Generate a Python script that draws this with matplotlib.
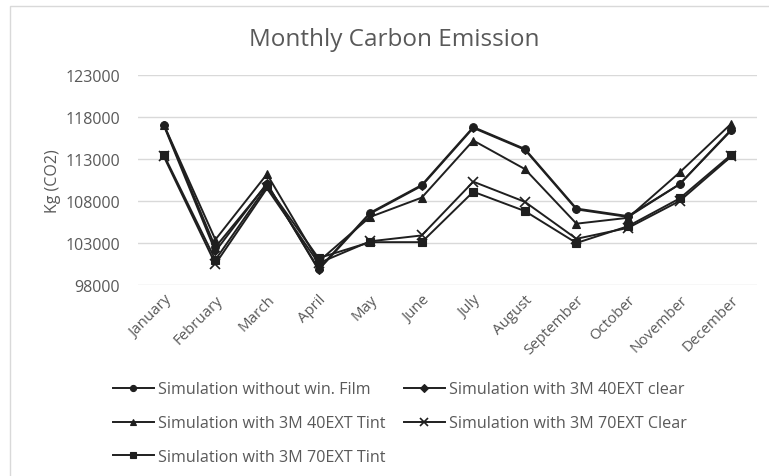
import matplotlib
matplotlib.use("Agg")
import matplotlib.pyplot as plt
from matplotlib.patches import Rectangle

months = ["January", "February", "March", "April", "May", "June", "July",
          "August", "September", "October", "November", "December"]
no_film = [117100, 102500, 110000, 99900, 106600, 109900, 116800, 114200, 107100, 106200, 110000, 116500]
clear40 = [117000, 102000, 110100, 99800, 106500, 109800, 116700, 114100, 107000, 106100, 110000, 116400]
tint40 = [117100, 103400, 111200, 100800, 106100, 108400, 115200, 111800, 105300, 106000, 111400, 117200]
clear70 = [113300, 100500, 109500, 100600, 103200, 103900, 110300, 107900, 103500, 104800, 108000, 113300]
tint70 = [113500, 101000, 109800, 101200, 103100, 103100, 109100, 106800, 103000, 105000, 108300, 113500]
yticks = [98000, 103000, 108000, 113000, 118000, 123000]

labels = ["Simulation without win. Film", "Simulation with 3M 40EXT clear",
          "Simulation with 3M 40EXT Tint", "Simulation with 3M 70EXT Clear",
          "Simulation with 3M 70EXT Tint"]
series = [no_film, clear40, tint40, clear70, tint70]
markers = ["o", "D", "^", "x", "s"]
msizes = [5.5, 4.5, 6, 7, 5.5]

plt.rcParams['font.family'] = ['Open Sans', 'DejaVu Sans']
txt = '#595959'

fig = plt.figure(figsize=(7.69, 4.77), dpi=100)
fig.patches.append(Rectangle((10/769, -0.1), 1.1, 1 - 7/477 + 0.1, transform=fig.transFigure,
                             fill=False, edgecolor='#d9d9d9', linewidth=1))
ax = fig.add_axes([138/769, 1 - 286/477, (757 - 138)/769, (286 - 76)/477])

x = list(range(len(months)))
handles = []
for vals, lab, m, ms in zip(series, labels, markers, msizes):
    h, = ax.plot(x, vals, color='#1f1f1f', linewidth=1.4, marker=m, markersize=ms,
                 markeredgewidth=1.2 if m == 'x' else 0.8, label=lab)
    handles.append(h)

ax.set_xlim(-0.5, len(months) - 0.5)
ax.set_ylim(yticks[0], yticks[-1])
ax.set_yticks(yticks)
ax.set_yticklabels([str(v) for v in yticks], fontsize=11.5, color=txt)
ax.set_xticks(x)
ax.set_xticklabels(months, rotation=45, ha='right', rotation_mode='anchor', fontsize=10.8, color=txt)
ax.tick_params(axis='y', length=0, pad=13)
ax.tick_params(axis='x', length=0, pad=5)
ax.grid(axis='y', color='#d9d9d9', linewidth=1)
ax.set_axisbelow(True)
for s in ax.spines.values():
    s.set_visible(False)
ax.set_ylabel("Kg (CO2)", fontsize=11.5, color=txt, labelpad=3)

fig.text((247 + 542) / 2 / 769, 1 - 40/477, "Monthly Carbon Emission", ha='center', va='center',
         fontsize=17.5, color=txt)

order = [0, 2, 4, 1, 3]
leg = fig.legend([handles[i] for i in order], [labels[i] for i in order], ncol=2,
                 loc='upper left', bbox_to_anchor=(98/769, 1 - 368/477), frameon=False,
                 fontsize=11.6, handlelength=2.55, handletextpad=0.25, columnspacing=1.15,
                 labelspacing=1.1, labelcolor=txt, markerscale=0.8)

fig.savefig("out.png", dpi=100)
